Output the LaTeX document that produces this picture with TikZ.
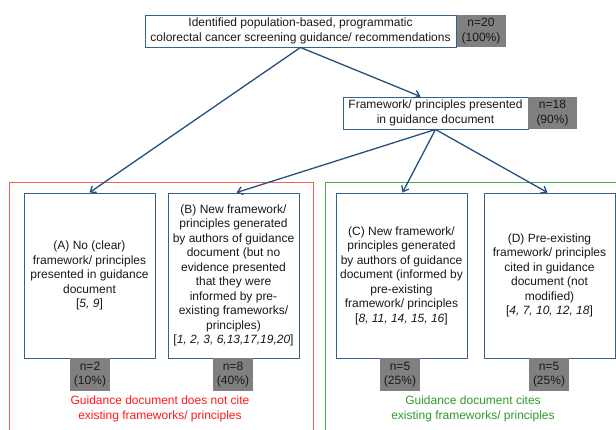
\documentclass[tikz,border=0pt]{standalone}
\usepackage{fontspec}
\setmainfont{Liberation Sans}
\usetikzlibrary{arrows.meta}
\definecolor{boxblue}{HTML}{3B5F8C}
\definecolor{arrowblue}{HTML}{24507F}
\definecolor{grayfill}{HTML}{808080}
\definecolor{framered}{HTML}{F4604A}
\definecolor{textred}{HTML}{FF1A1A}
\definecolor{framegreen}{HTML}{4CAA4C}
\definecolor{textgreen}{HTML}{2E9A2E}
\tikzset{
  txt/.style={font=\fontsize{12}{14.5}\selectfont, align=center, text=black!90},
  wbox/.style={txt, draw=boxblue, line width=0.9pt, fill=white, inner sep=0pt},
  gbox/.style={txt, fill=grayfill, inner sep=0pt, minimum height=32pt},
  arr/.style={draw=arrowblue, line width=1.3pt, -{Straight Barb[length=5pt,width=8pt]}},
}
\begin{document}
\begin{tikzpicture}[x=1pt,y=-1pt]
\useasboundingbox (0,0) rectangle (616,430);
% frames
\draw[framered, line width=0.9pt] (9,431) -- (9,182) -- (313,182) -- (313,431);
\draw[framegreen, line width=0.9pt] (325,431) -- (325,182) -- (617,182);
% top
\node[wbox, minimum width=311pt, minimum height=32pt] (top) at (300.5,31)
  {Identified population-based, programmatic\\colorectal cancer screening guidance/ recommendations};
\node[gbox, minimum width=49pt] (n20) at (481,31) {n=20\\(100\%)};
% framework
\node[wbox, minimum width=185pt, minimum height=32pt] (fw) at (435.5,113)
  {Framework/ principles presented\\in guidance document};
\node[gbox, minimum width=49pt] (n18) at (552.5,113) {n=18\\(90\%)};
% category boxes
\node[wbox, minimum width=131pt, minimum height=165pt] (A) at (89.5,275.5)
  {(A) No (clear)\\framework/ principles\\presented in guidance\\document\\{[}\textit{5, 9}{]}};
\node[wbox, minimum width=131pt, minimum height=165pt] (B) at (233.5,275.5)
  {(B) New framework/\\principles generated\\by authors of guidance\\document (but no\\evidence presented\\that they were\\informed by pre-\\existing frameworks/\\principles)\\{[}\textit{1, 2, 3, 6,13,17,19,20}{]}};
\node[wbox, minimum width=131pt, minimum height=165pt] (C) at (401.5,275.5)
  {(C) New framework/\\principles generated\\by authors of guidance\\document (informed by\\pre-existing\\framework/ principles\\{[}\textit{8, 11, 14, 15, 16}{]}};
\node[wbox, minimum width=131pt, minimum height=165pt] (D) at (549.5,275.5)
  {(D) Pre-existing\\framework/ principles\\cited in guidance\\document (not\\modified)\\{[}\textit{4, 7, 10, 12, 18}{]}};
% counts
\node[gbox, minimum width=40pt, minimum height=33pt] (nA) at (90,374.5) {n=2\\(10\%)};
\node[gbox, minimum width=40pt, minimum height=33pt] (nB) at (233,374.5) {n=8\\(40\%)};
\node[gbox, minimum width=40pt, minimum height=33pt] (nC) at (400,374.5) {n=5\\(25\%)};
\node[gbox, minimum width=40pt, minimum height=33pt] (nD) at (549,374.5) {n=5\\(25\%)};
% group labels
\node[txt, text=textred] (lred) at (160,409) {Guidance document does not cite\\existing frameworks/ principles};
\node[txt, text=textgreen] (lgreen) at (473,409) {Guidance document cites\\existing frameworks/ principles};
% arrows
\draw[arr] (top.south) -- (A.north);
\draw[arr] (top.south) -- ([xshift=-15pt]fw.north);
\draw[arr] (fw.south) -- ([xshift=3pt]B.north);
\draw[arr] (fw.south) -- ([xshift=1pt]C.north);
\draw[arr] (fw.south) -- ([xshift=-2pt]D.north);
\end{tikzpicture}
\end{document}
